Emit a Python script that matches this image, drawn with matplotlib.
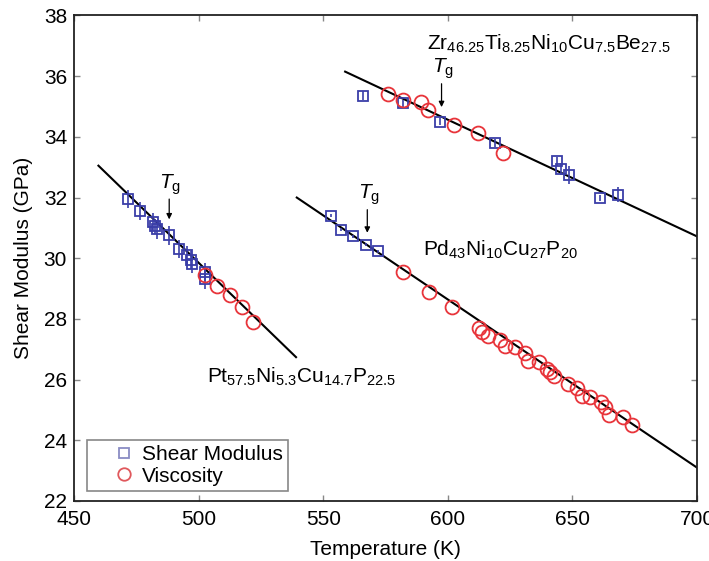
# Shear modulus and viscosity-derived modulus vs temperature for three glasses

import matplotlib
matplotlib.use("Agg")
import matplotlib.pyplot as plt
from matplotlib.lines import Line2D

plt.rcParams["font.family"] = ["Liberation Sans", "DejaVu Sans"]
plt.rcParams["mathtext.fontset"] = "custom"
plt.rcParams["mathtext.rm"] = "Liberation Sans"
plt.rcParams["mathtext.it"] = "Liberation Sans:italic"

# Pt57.5Ni5.3Cu14.7P22.5
pt_shear_T = [471.7, 476.5, 481.5, 482.5, 483.5, 488.0, 492.0, 495.5, 497.0, 497.5, 502.6, 502.6]
pt_shear_G = [31.95, 31.55, 31.2, 31.05, 30.95, 30.75, 30.3, 30.1, 29.95, 29.8, 29.55, 29.3]
pt_shear_err = [0.3, 0.3, 0.3, 0.25, 0.3, 0.3, 0.3, 0.3, 0.3, 0.3, 0.3, 0.3]
pt_visc_T = [502.6, 507.3, 512.6, 517.3, 522.0]
pt_visc_G = [29.45, 29.07, 28.79, 28.4, 27.91]
pt_fit_T = [459.8, 539.1]
pt_fit_G = [33.05, 26.74]

# Pd43Ni10Cu27P20
pd_shear_T = [553.0, 557.0, 561.8, 567.2, 571.9]
pd_shear_G = [31.4, 30.94, 30.72, 30.45, 30.23]
pd_visc_T = [582.2, 592.5, 601.5, 612.6, 613.6, 616.3, 621.0, 623.0, 627.0, 631.0, 632.0,
             636.7, 639.7, 641.0, 642.6, 648.4, 651.7, 653.7, 657.0, 661.3, 663.0, 664.8,
             670.4, 673.8]
pd_visc_G = [29.53, 28.9, 28.4, 27.69, 27.58, 27.43, 27.32, 27.11, 27.06, 26.88, 26.6,
             26.58, 26.36, 26.25, 26.11, 25.87, 25.73, 25.46, 25.42, 25.26, 25.1, 24.82,
             24.76, 24.52]
pd_fit_T = [539.4, 700.0]
pd_fit_G = [32.0, 23.1]

# Zr46.25Ti8.25Ni10Cu7.5Be27.5
zr_shear_T = [566.1, 581.9, 596.9, 618.9, 643.7, 645.4, 648.8, 661.1, 668.4]
zr_shear_G = [35.35, 35.1, 34.5, 33.8, 33.2, 32.95, 32.75, 32.0, 32.1]
zr_shear_err = [0.15, 0.12, 0.12, 0.12, 0.15, 0.2, 0.3, 0.1, 0.25]
zr_visc_T = [576.1, 582.2, 589.3, 592.2, 602.5, 612.2, 622.0]
zr_visc_G = [35.4, 35.2, 35.15, 34.88, 34.4, 34.12, 33.46]
zr_fit_T = [558.8, 700.0]
zr_fit_G = [36.15, 30.72]

# glass transition arrows: (T, tail G, tip G)
tg_marks = [(488.2, 31.95, 31.28), (567.7, 31.6, 30.84), (597.5, 35.75, 34.98)]

blue = "#3a3ea8"
red = "#e8343a"

fig = plt.figure(figsize=(7.09, 5.61), dpi=100)
ax = fig.add_axes([0.1044, 0.107, 0.8786, 0.8654])

for fT, fG in [(pt_fit_T, pt_fit_G), (pd_fit_T, pd_fit_G), (zr_fit_T, zr_fit_G)]:
    ax.plot(fT, fG, color="black", lw=1.5, zorder=2)

sq = dict(fmt="s", ms=7.5, mfc="none", mec=blue, mew=1.3, ecolor=blue, elinewidth=1.2, capsize=0, zorder=3)
ax.errorbar(pt_shear_T, pt_shear_G, yerr=pt_shear_err, **sq)
ax.errorbar(pd_shear_T, pd_shear_G, yerr=0.05, **sq)
ax.errorbar(zr_shear_T, zr_shear_G, yerr=zr_shear_err, **sq)

circ = dict(ls="none", marker="o", ms=10, mfc="none", mec=red, mew=1.3, zorder=4)
ax.plot(pt_visc_T, pt_visc_G, **circ)
ax.plot(pd_visc_T, pd_visc_G, **circ)
ax.plot(zr_visc_T, zr_visc_G, **circ)

for T, g0, g1 in tg_marks:
    ax.annotate("", xy=(T, g1), xytext=(T, g0),
                arrowprops=dict(arrowstyle="-|>", color="black", lw=0.9,
                                mutation_scale=8, shrinkA=0, shrinkB=0))
    ax.text(T + 0.5, g0 + 0.08, r"$\mathit{T}_{\mathrm{g}}$", fontsize=15,
            ha="center", va="bottom")

ax.text(640.6, 37.07, r"Zr$_{46.25}$Ti$_{8.25}$Ni$_{10}$Cu$_{7.5}$Be$_{27.5}$",
        fontsize=15, ha="center", va="center")
ax.text(621.0, 30.28, r"Pd$_{43}$Ni$_{10}$Cu$_{27}$P$_{20}$",
        fontsize=15, ha="center", va="center")
ax.text(541.4, 26.08, r"Pt$_{57.5}$Ni$_{5.3}$Cu$_{14.7}$P$_{22.5}$",
        fontsize=15, ha="center", va="center")

ax.set_xlim(450, 700)
ax.set_ylim(22, 38)
ax.set_xticks([450, 500, 550, 600, 650, 700])
ax.set_yticks(range(22, 39, 2))
ax.tick_params(direction="in", length=4, width=1, color="#888888",
               top=True, right=True, labelsize=15)
ax.tick_params(axis="x", pad=6.5)
ax.tick_params(axis="y", pad=5)
for s in ax.spines.values():
    s.set_linewidth(1.3)
    s.set_color("#222222")

ax.set_xlabel("Temperature (K)", fontsize=15, labelpad=8)
ax.set_ylabel("Shear Modulus (GPa)", fontsize=15, labelpad=8)

# legend markers sit in a wide handle box, text pulled back over its right half
handles = [
    Line2D([], [], ls="none", marker="s", ms=7.5, mfc="none", mec="#8a8cc4", mew=1.3),
    Line2D([], [], ls="none", marker="o", ms=9, mfc="none", mec="#e0585c", mew=1.3),
]
leg = ax.legend(handles, ["Shear Modulus", "Viscosity"], loc="lower left",
                bbox_to_anchor=(0.021, 0.021), borderaxespad=0, fontsize=15,
                fancybox=False, framealpha=1, edgecolor="#888888",
                handlelength=3.0, handletextpad=-0.6, labelspacing=0.1, borderpad=0.25)
leg.get_frame().set_linewidth(1.2)

fig.savefig("out.png", dpi=100)
